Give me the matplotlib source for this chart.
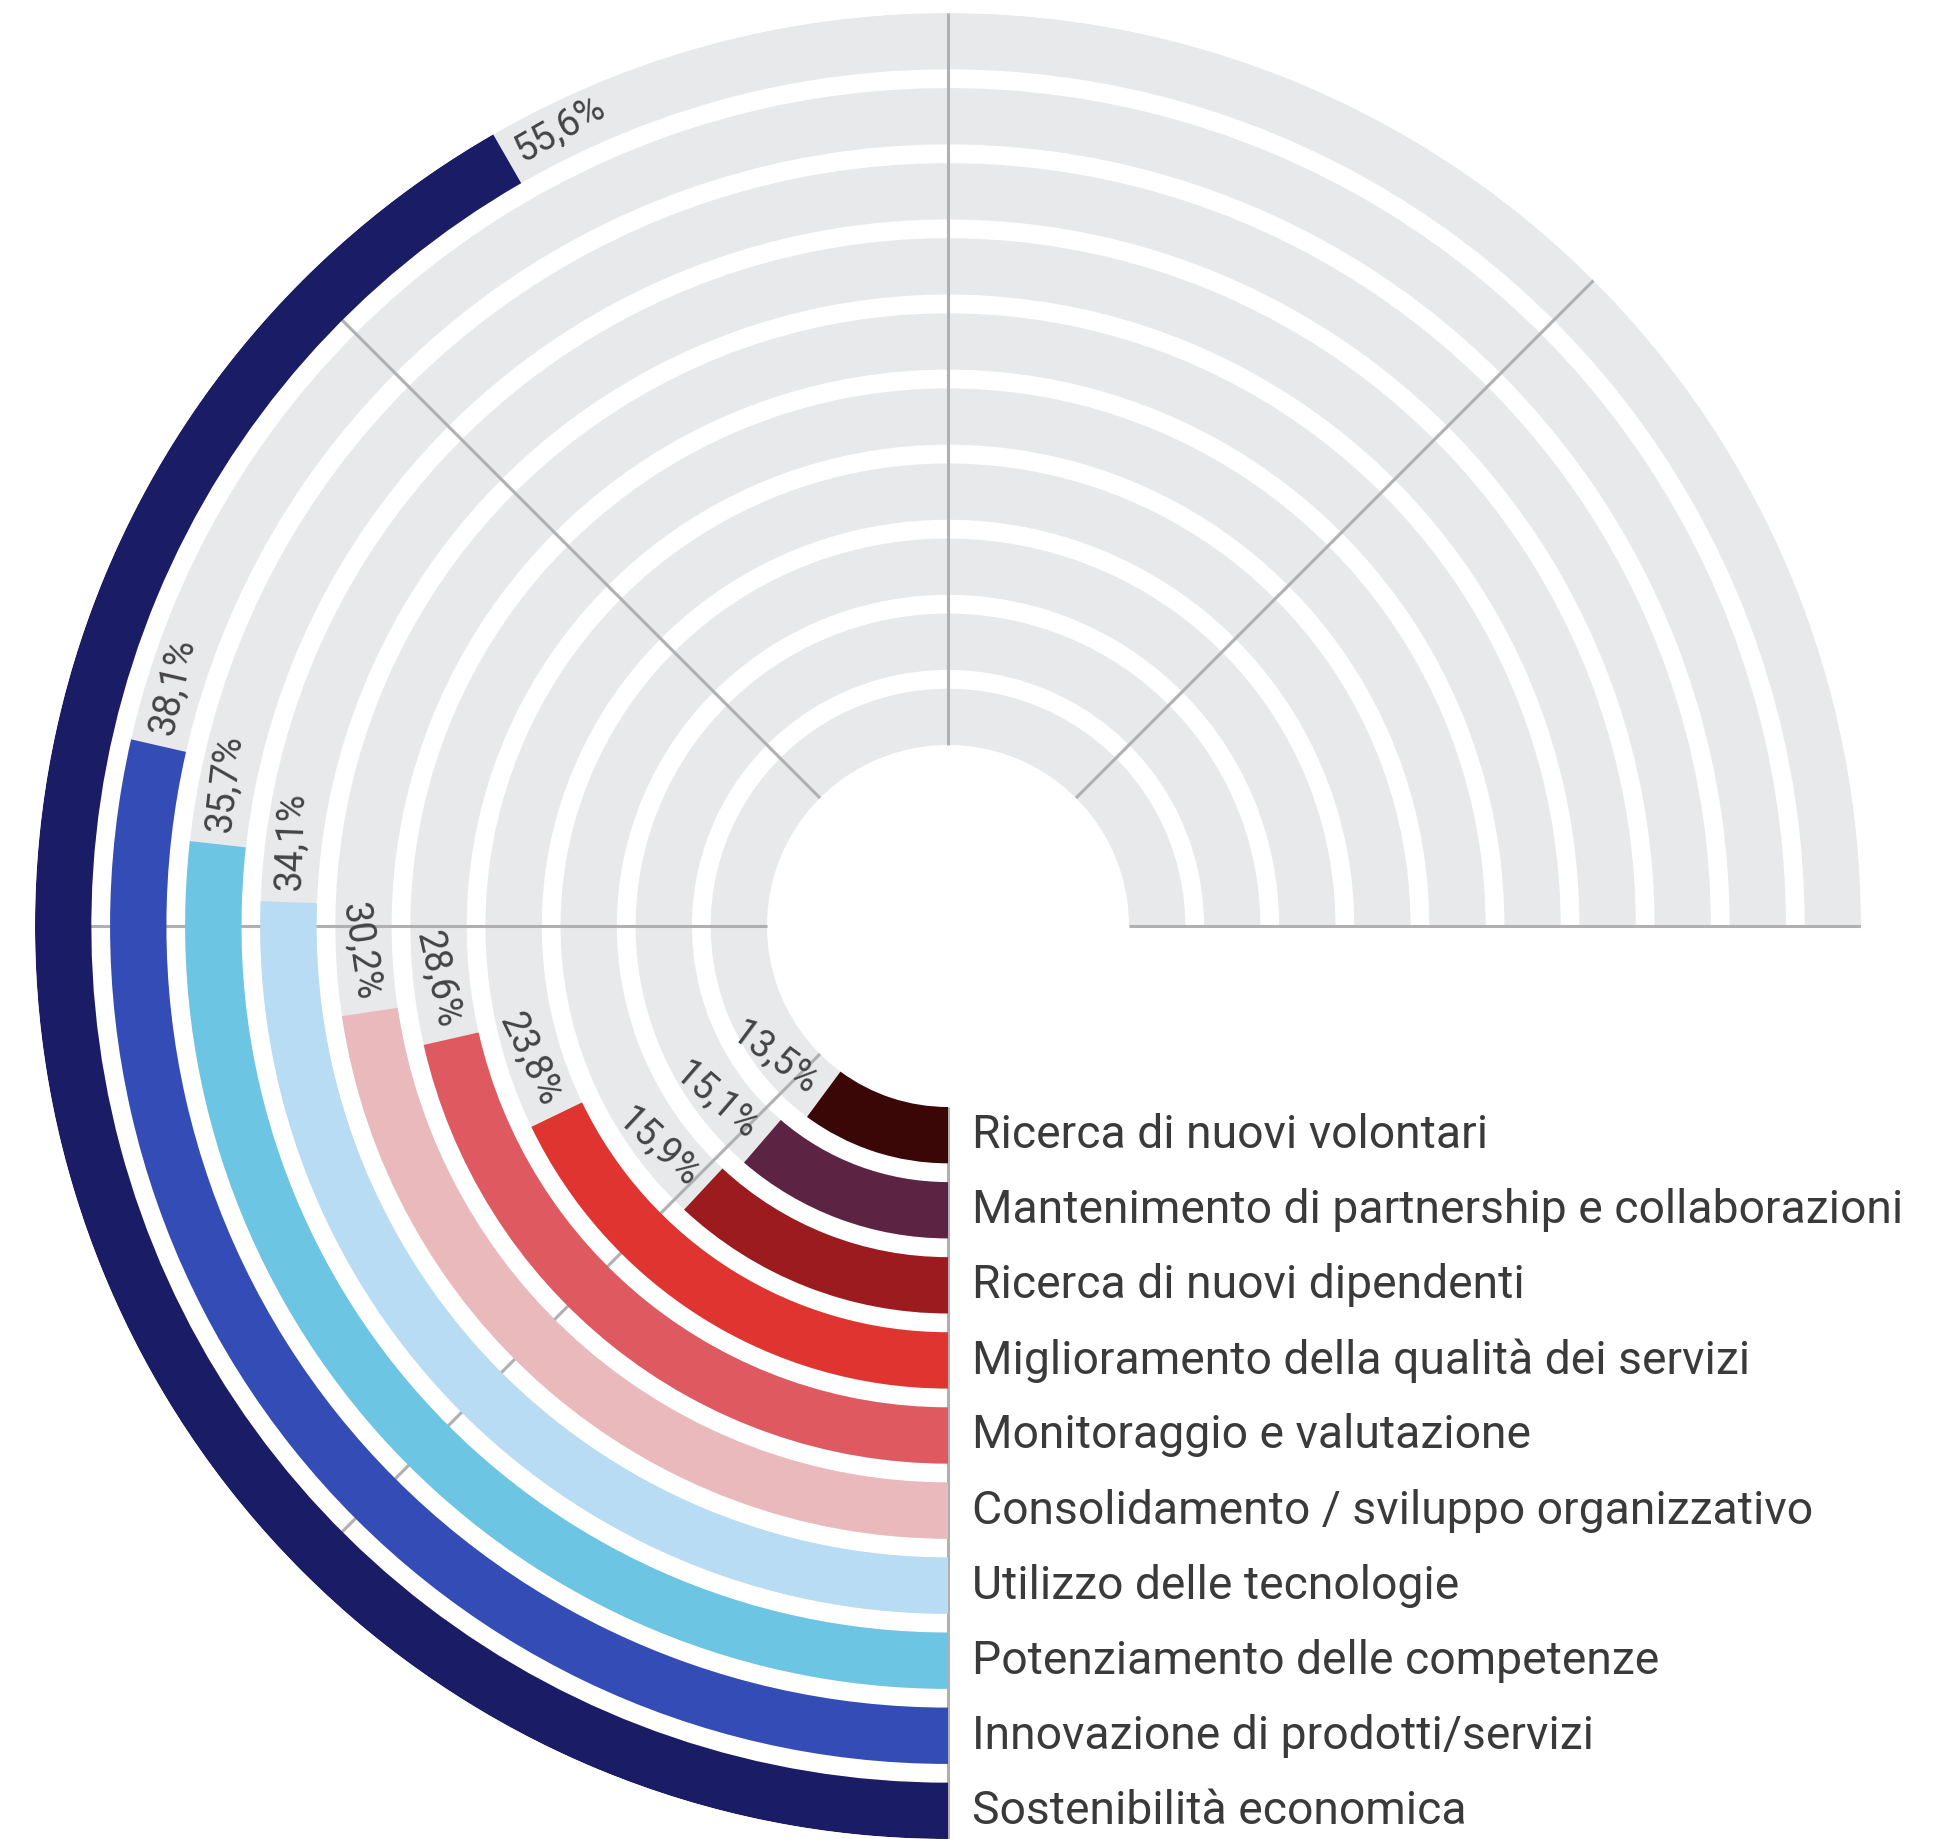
import numpy as np
import matplotlib
matplotlib.use("Agg")
import matplotlib.pyplot as plt

plt.rcParams['font.family'] = ['Roboto', 'DejaVu Sans']

# categories from the inner ring to the outer ring
categories = [
    "Ricerca di nuovi volontari",
    "Mantenimento di partnership e collaborazioni",
    "Ricerca di nuovi dipendenti",
    "Miglioramento della qualità dei servizi",
    "Monitoraggio e valutazione",
    "Consolidamento / sviluppo organizzativo",
    "Utilizzo delle tecnologie",
    "Potenziamento delle competenze",
    "Innovazione di prodotti/servizi",
    "Sostenibilità economica",
]
values = [13.5, 15.1, 15.9, 23.8, 28.6, 30.2, 34.1, 35.7, 38.1, 55.6]
colors = ["#3b0606", "#5c2442", "#9c1b1e", "#df3430", "#df5961",
          "#eab9bb", "#b7dcf3", "#6bc5e3", "#344cb6", "#1a1d66"]

full_angle = 270.0   # 100% covers three quarters of the circle
r_in = 2.411         # radius of the empty hole
thick = 0.75         # ring thickness (pitch = 1)
r_max = r_in + len(values) - 1 + thick

fig = plt.figure(figsize=(19.41, 18.39), dpi=100)
ax = fig.add_axes([35 / 1941, 0.0, 1826 / 1941, 1826 / 1839], projection='polar')
ax.set_theta_zero_location('S')
ax.set_theta_direction(-1)
ax.set_ylim(0, r_max)
ax.grid(False)
ax.set_xticks([])
ax.set_yticks([])
ax.spines['polar'].set_visible(False)
ax.patch.set_visible(False)

radii = r_in + thick / 2 + np.arange(len(values))
ends = np.radians(np.array(values) / 100 * full_angle)

# grey tracks
ax.barh(radii, np.radians(full_angle), left=0, height=thick,
        color="#e8e9eb", linewidth=0, zorder=1)

# radial grid every 45 degrees
grid_th = np.radians(np.arange(0, full_angle + 1, 45))
ax.vlines(grid_th, r_in, r_max, color="#b0b0b2", linewidth=2.2, zorder=2)

# coloured bars
ax.barh(radii, ends, left=0, height=thick, color=colors, linewidth=0, zorder=3)

# percentage labels just past the end of each bar
for r, th, v in zip(radii, ends, values):
    pad = 12 / (r * 75.0)
    deg = np.degrees(th)
    rot = 180 - deg
    ha = 'left'
    if rot > 90:
        rot -= 180
        ha = 'right'
    txt = f"{v:.1f}%".replace('.', ',')
    ax.text(th + pad, r, txt, rotation=rot, rotation_mode='anchor',
            ha=ha, va='center', fontsize=27, color="#444444", zorder=4)

# category names at the start of each ring
for r, name in zip(radii, categories):
    ax.annotate(name, xy=(0, r), xytext=(24, 0), textcoords='offset pixels',
                ha='left', va='center', fontsize=33.3, color="#3a3a3a")

fig.savefig("out.png", dpi=100, facecolor="white")
